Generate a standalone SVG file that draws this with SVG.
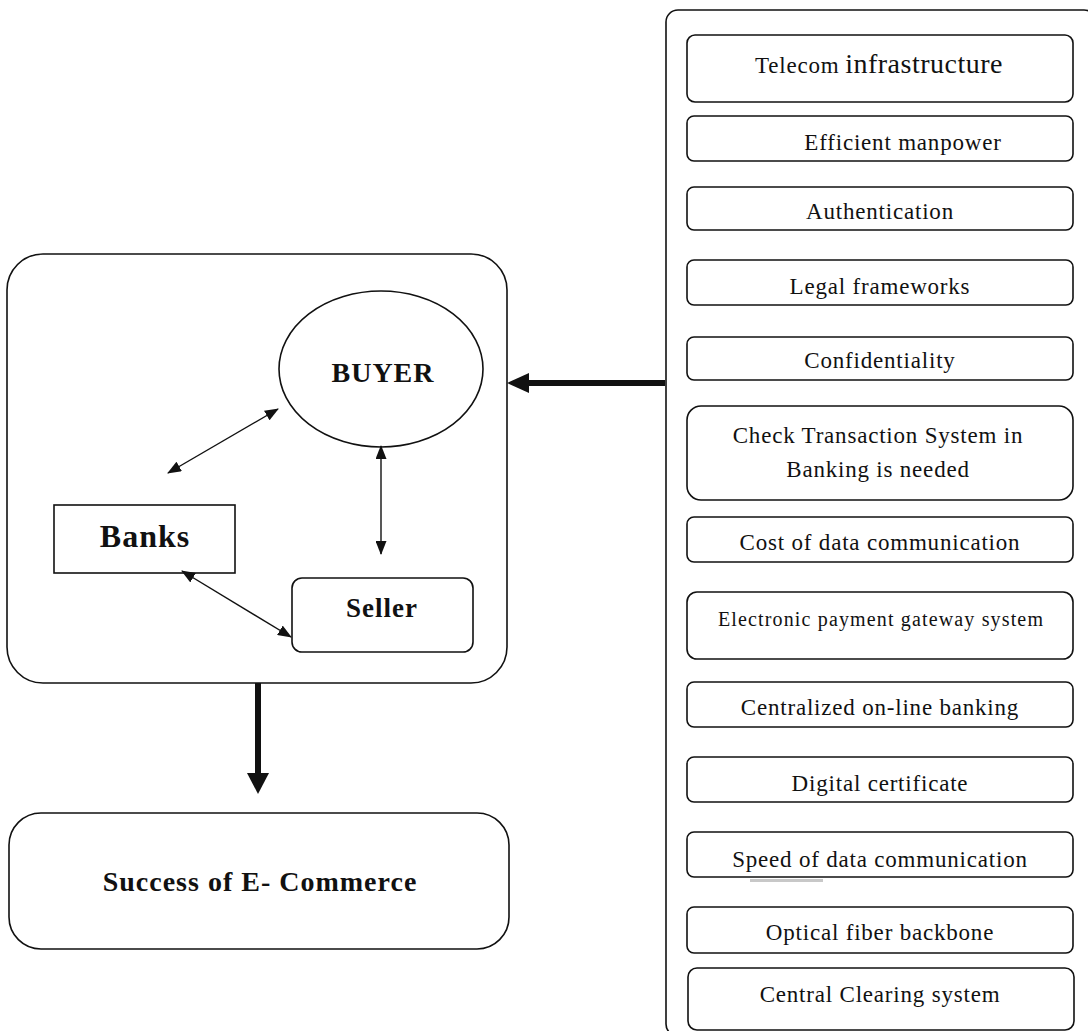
<svg xmlns="http://www.w3.org/2000/svg" width="1088" height="1031" viewBox="0 0 1088 1031">
<style>
.box{fill:#fff;stroke:#111;stroke-width:1.6}
.t{font-family:"Liberation Serif","Times New Roman",serif;font-size:23px;fill:#111;text-anchor:middle;letter-spacing:0.8px}
.b{font-family:"Liberation Serif","Times New Roman",serif;font-weight:bold;fill:#111;text-anchor:middle}
.thin{stroke:#111;stroke-width:1.4;fill:none;marker-start:url(#ah);marker-end:url(#ah)}
.thick{stroke:#111;stroke-width:6;fill:none}
</style>
<defs>
<marker id="ah" viewBox="0 0 14 11" refX="13" refY="5.5" markerWidth="14" markerHeight="11" markerUnits="userSpaceOnUse" orient="auto-start-reverse">
<path d="M0,0 L14,5.5 L0,11 z" fill="#111"/>
</marker>
</defs>
<rect width="1088" height="1031" fill="#fff"/>

<g id="factors-panel">
<rect class="box" x="666" y="10" width="430" height="1026" rx="12"/>
</g>
<g id="telecom"><rect class="box" x="687" y="35" width="386" height="67" rx="8"/>
<text class="t" x="879" y="73" style="letter-spacing:0"><tspan font-size="23" letter-spacing="0.8">Telecom</tspan> <tspan font-size="28" letter-spacing="0.5">infrastructure</tspan></text></g>
<g id="manpower"><rect class="box" x="687" y="116" width="386" height="45" rx="7"/><text class="t" x="903" y="150">Efficient manpower</text></g>
<g id="authentication"><rect class="box" x="687" y="187" width="386" height="43" rx="7"/><text class="t" x="880" y="219">Authentication</text></g>
<g id="legal"><rect class="box" x="687" y="260" width="386" height="45" rx="7"/><text class="t" x="880" y="294">Legal frameworks</text></g>
<g id="confidentiality"><rect class="box" x="687" y="337" width="386" height="43" rx="7"/><text class="t" x="880" y="368">Confidentiality</text></g>
<g id="check"><rect class="box" x="687" y="406" width="386" height="94" rx="14"/><text class="t" x="878" y="443">Check Transaction System in</text><text class="t" x="878" y="477">Banking is needed</text></g>
<g id="cost"><rect class="box" x="687" y="517" width="386" height="45" rx="7"/><text class="t" x="880" y="550">Cost of data communication</text></g>
<g id="epayment"><rect class="box" x="687" y="592" width="386" height="67" rx="10"/><text class="t" x="881" y="626" style="font-size:20px;letter-spacing:1.15px">Electronic payment gateway system</text></g>
<g id="centralized"><rect class="box" x="687" y="682" width="386" height="45" rx="7"/><text class="t" x="880" y="715">Centralized on-line banking</text></g>
<g id="digital"><rect class="box" x="687" y="757" width="386" height="45" rx="7"/><text class="t" x="880" y="791">Digital certificate</text></g>
<g id="speed"><rect class="box" x="687" y="832" width="386" height="45" rx="7"/><text class="t" x="880" y="867">Speed of data communication</text>
<rect x="750" y="879" width="73" height="3" fill="#c8c8c8"/></g>
<g id="optical"><rect class="box" x="687" y="907" width="386" height="46" rx="7"/><text class="t" x="880" y="940">Optical fiber backbone</text></g>
<g id="clearing"><rect class="box" x="688" y="968" width="386" height="62" rx="9"/><text class="t" x="880" y="1002">Central Clearing system</text></g>

<g id="actors-panel"><rect class="box" x="7" y="254" width="500" height="429" rx="36"/></g>
<g id="buyer"><ellipse class="box" cx="381" cy="369" rx="102" ry="78"/><text class="b" x="383" y="382" font-size="28" letter-spacing="1">BUYER</text></g>
<g id="banks"><rect class="box" x="54" y="505" width="181" height="68"/><text class="b" x="145" y="547" font-size="32" letter-spacing="1">Banks</text></g>
<g id="seller"><rect class="box" x="292" y="578" width="181" height="74" rx="10"/><text class="b" x="382" y="617" font-size="27" letter-spacing="1">Seller</text></g>
<g id="success"><rect class="box" x="9" y="813" width="500" height="136" rx="32"/><text class="b" x="260" y="891" font-size="28" letter-spacing="1">Success of E- Commerce</text></g>

<g id="connectors">
<line class="thin" x1="168" y1="473" x2="278" y2="409"/>
<line class="thin" x1="381" y1="446" x2="381" y2="554"/>
<line class="thin" x1="182" y1="571" x2="291" y2="637"/>
<line class="thick" x1="665" y1="383" x2="525" y2="383"/>
<path d="M507,383 L529,373 L529,393 z" fill="#111"/>
<line class="thick" x1="258" y1="683" x2="258" y2="776"/>
<path d="M258,794 L247,773 L269,773 z" fill="#111"/>
</g>
</svg>
